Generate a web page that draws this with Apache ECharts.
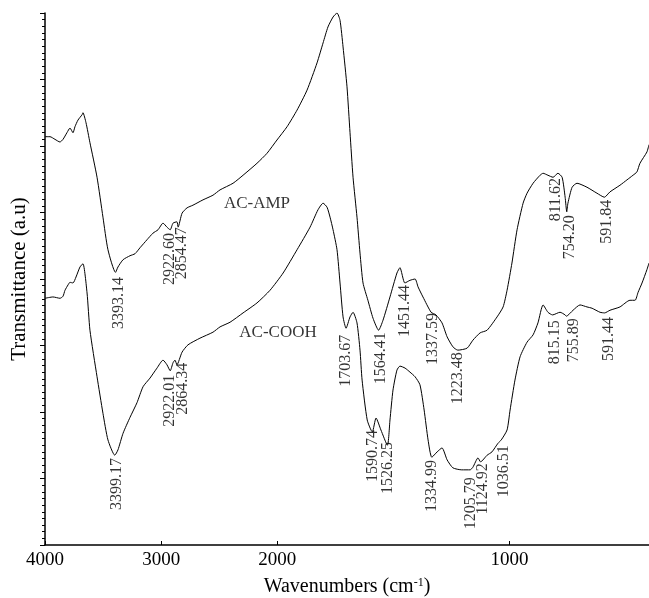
<!DOCTYPE html>
<html>
<head>
<meta charset="utf-8">
<script src="https://cdn.jsdelivr.net/npm/echarts@6/dist/echarts.min.js"></script>
<style>
  html, body { margin: 0; padding: 0; background: #fff; }
  #chart { width: 649px; height: 598px; }
</style>
</head>
<body>
<div id="chart"></div>
<script>
// AC-AMP spectrum (wavenumber cm-1, transmittance a.u.)
var ampWave = [4000, 3957, 3914, 3871, 3845, 3811, 3785, 3759, 3742, 3716, 3681, 3673, 3647, 3613, 3552, 3501, 3458, 3393,
  3372, 3328, 3268, 3225, 3182, 3122, 3070, 3027, 2984, 2950, 2922, 2898, 2864, 2854, 2820, 2777, 2726, 2640, 2554, 2493,
  2381, 2295, 2175, 2089, 2003, 1958, 1915, 1872, 1829, 1803, 1782, 1760, 1743, 1730, 1717, 1700, 1687, 1674, 1657, 1644,
  1631, 1610, 1588, 1564, 1545, 1515, 1485, 1472, 1451, 1429, 1407, 1394, 1373, 1338, 1317, 1291, 1269, 1244, 1223, 1183,
  1158, 1127, 1097, 1054, 1028, 1011, 990, 968, 942, 925, 899, 869, 856, 835, 813, 792, 774, 761, 754, 749, 731, 710, 667,
  624, 592, 568, 525, 495, 469, 452, 439, 409, 400];
var ampT = [61.4, 61.4, 61.0, 60.6, 61.0, 62.0, 62.7, 62.0, 62.9, 63.9, 64.7, 65.0, 63.5, 60.5, 55.3, 49.3, 44.4, 41.0,
  41.8, 42.9, 43.5, 43.8, 44.7, 45.9, 46.9, 47.4, 48.4, 47.8, 47.4, 48.4, 48.6, 47.8, 49.9, 50.7, 51.1, 51.9, 52.6, 53.4,
  54.4, 55.6, 57.4, 58.9, 60.9, 62.9, 65.4, 68.4, 72.5, 75.5, 77.9, 79.4, 80.0, 78.9, 74.9, 68.9, 62.0, 55.3, 49.3, 43.9,
  39.4, 36.8, 34.1, 32.3, 33.8, 37.3, 40.9, 41.7, 39.4, 39.8, 40.0, 38.8, 37.3, 35.0, 34.6, 33.4, 31.3, 29.8, 29.3, 29.6,
  30.8, 31.9, 32.3, 34.3, 35.8, 38.3, 42.4, 47.4, 51.4, 52.9, 54.4, 55.6, 55.9, 55.6, 55.3, 55.9, 55.3, 52.3, 50.1, 51.4,
  53.8, 54.4, 53.8, 52.9, 52.3, 53.1, 54.1, 54.9, 55.6, 56.1, 57.4, 59.1, 60.2];

// AC-COOH spectrum
var coohWave = [4000, 3931, 3871, 3845, 3828, 3802, 3785, 3759, 3733, 3699, 3673, 3638, 3613, 3552, 3501, 3458, 3399,
  3372, 3328, 3268, 3208, 3156, 3096, 3036, 2984, 2950, 2922, 2898, 2881, 2864, 2820, 2769, 2666, 2554, 2493, 2407, 2295,
  2175, 2063, 1975, 1915, 1859, 1825, 1803, 1786, 1773, 1760, 1743, 1730, 1717, 1704, 1687, 1674, 1657, 1644, 1635, 1613,
  1591, 1575, 1554, 1526, 1515, 1502, 1485, 1472, 1450, 1429, 1407, 1386, 1368, 1351, 1335, 1312, 1291, 1269, 1244, 1206,
  1170, 1158, 1136, 1125, 1097, 1076, 1050, 1036, 1011, 998, 977, 955, 925, 899, 878, 856, 835, 815, 783, 761, 756, 727,
  697, 667, 645, 611, 591, 568, 525, 482, 460, 447, 430, 409, 400];
var coohT = [37.1, 37.3, 37.1, 37.4, 38.3, 39.1, 39.5, 39.4, 40.3, 41.8, 42.3, 37.9, 32.3, 25.3, 19.8, 15.8, 13.5,
  14.3, 16.8, 19.2, 21.4, 23.8, 25.1, 26.6, 27.8, 27.1, 26.2, 27.4, 27.8, 27.1, 29.0, 30.1, 31.1, 32.0, 32.8, 33.5, 34.9,
  36.4, 38.3, 40.9, 44.4, 47.8, 50.4, 51.4, 50.8, 49.3, 47.4, 44.4, 39.4, 34.3, 32.6, 34.3, 35.0, 33.4, 29.3, 24.8, 18.8,
  17.0, 19.1, 17.3, 15.0, 18.8, 23.3, 26.3, 26.9, 26.6, 26.0, 25.3, 24.1, 20.3, 15.8, 13.2, 14.0, 14.6, 12.8, 11.6, 11.3,
  11.3, 11.7, 13.1, 12.5, 13.5, 14.0, 15.3, 15.8, 17.3, 20.3, 24.8, 28.3, 30.5, 31.6, 33.4, 36.1, 35.0, 34.6, 35.0, 34.6,
  34.4, 35.3, 36.1, 35.8, 35.6, 35.0, 34.9, 35.3, 35.8, 36.8, 36.8, 38.0, 39.4, 41.4, 42.4];

// peak labels and the level they hang from
var ampPeaks = ["3393.14", "2922.60", "2854.47", "1564.41", "1451.44", "1337.59", "1223.48", "811.62", "754.20", "591.84"];
var ampPeakT = [40.3, 46.9, 47.8, 32.0, 39.1, 34.9, 29.0, 55.2, 49.6, 51.9];
var coohPeaks = ["3399.17", "2922.01", "2864.34", "1703.67", "1590.74", "1526.25", "1334.99", "1205.79", "1124.92",
  "1036.51", "815.15", "755.89", "591.44"];
var coohPeakT = [13.1, 25.6, 27.4, 31.6, 17.3, 15.5, 12.8, 10.2, 12.3, 15.0, 33.8, 34.1, 34.3];

var xTicks = [4000, 3000, 2000, 1000];
var curveNames = ["AC-AMP", "AC-COOH"];
var curveNameWave = [2175, 1997];
var curveNameT = [51.4, 32.0];

// sideways nudge (px) for labels that were set beside their peak so they don't collide
var labelNudge = {
  "3393.14": 3, "2854.47": 4, "1564.41": 2, "1337.59": 2, "811.62": 2, "754.20": 3, "591.84": 2,
  "3399.17": 2, "2864.34": 6, "1205.79": 9, "1124.92": 2, "1036.51": 3, "815.15": 2, "755.89": 7, "591.44": 4
};

// the instrument doubles the scale below 2000 cm-1
function toAxis(w) {
  return w >= 2000 ? 4000 - w : 2000 + 2 * (2000 - w);
}
function fromAxis(v) {
  return v <= 2000 ? 4000 - v : 2000 - (v - 2000) / 2;
}

var serif = "Liberation Serif";

function curve(wave, t) {
  return wave.map(function (w, i) { return [toAxis(w), t[i]]; });
}
function peakData(peaks, t) {
  return peaks.map(function (p, i) {
    return {
      value: [toAxis(parseFloat(p)), t[i], p],
      label: { position: [labelNudge[p] || 0, 0] }
    };
  });
}

var chart = echarts.init(document.getElementById("chart"));

chart.setOption({
  backgroundColor: "#fff",
  animation: false,
  grid: {
    left: 45,
    right: 0,
    top: 13,
    bottom: 53,
    outerBoundsMode: "none"
  },
  xAxis: {
    type: "value",
    min: 0,
    max: 5200,
    name: "Wavenumbers (cm{sup|-1})",
    nameLocation: "middle",
    nameGap: 32,
    nameTextStyle: {
      fontFamily: serif,
      fontSize: 20,
      color: "#000",
      rich: {
        sup: { fontFamily: serif, fontSize: 12, color: "#000", verticalAlign: "top", padding: [0, 0, 8, 0] }
      }
    },
    axisLine: { lineStyle: { color: "#000", width: 1.5 } },
    axisTick: {
      inside: true,
      length: 4,
      customValues: xTicks.map(toAxis),
      lineStyle: { color: "#000" }
    },
    axisLabel: {
      customValues: xTicks.map(toAxis),
      formatter: function (v) { return String(Math.round(fromAxis(v))); },
      fontFamily: serif,
      fontSize: 19,
      color: "#000",
      margin: 6
    },
    splitLine: { show: false }
  },
  yAxis: {
    type: "value",
    min: 0,
    max: 80,
    interval: 10,
    name: "Transmittance (a.u)",
    nameLocation: "middle",
    nameGap: 15,
    nameTextStyle: { fontFamily: serif, fontSize: 21, color: "#000" },
    axisLine: { show: true, lineStyle: { color: "#000", width: 1.5 } },
    axisTick: { show: true, length: 5, lineStyle: { color: "#000" } },
    minorTick: { show: true, splitNumber: 10, length: 3, lineStyle: { color: "#000" } },
    axisLabel: { show: false },
    splitLine: { show: false }
  },
  series: [
    {
      name: "AC-AMP",
      type: "line",
      data: curve(ampWave, ampT),
      symbol: "none",
      smooth: 0.2,
      lineStyle: { color: "#000", width: 1 }
    },
    {
      name: "AC-COOH",
      type: "line",
      data: curve(coohWave, coohT),
      symbol: "none",
      smooth: 0.2,
      lineStyle: { color: "#000", width: 1 }
    },
    {
      type: "scatter",
      data: peakData(ampPeaks, ampPeakT).concat(peakData(coohPeaks, coohPeakT)),
      symbolSize: 0,
      silent: true,
      label: {
        show: true,
        position: [0, 0],
        rotate: 90,
        align: "right",
        verticalAlign: "middle",
        fontFamily: serif,
        fontSize: 16,
        color: "#000",
        formatter: function (p) { return p.value[2]; }
      }
    },
    {
      type: "scatter",
      data: curveNames.map(function (n, i) { return [toAxis(curveNameWave[i]), curveNameT[i], n]; }),
      symbolSize: 0,
      silent: true,
      label: {
        show: true,
        position: "inside",
        fontFamily: serif,
        fontSize: 17,
        color: "#000",
        formatter: function (p) { return p.value[2]; }
      }
    }
  ]
});
</script>
</body>
</html>
